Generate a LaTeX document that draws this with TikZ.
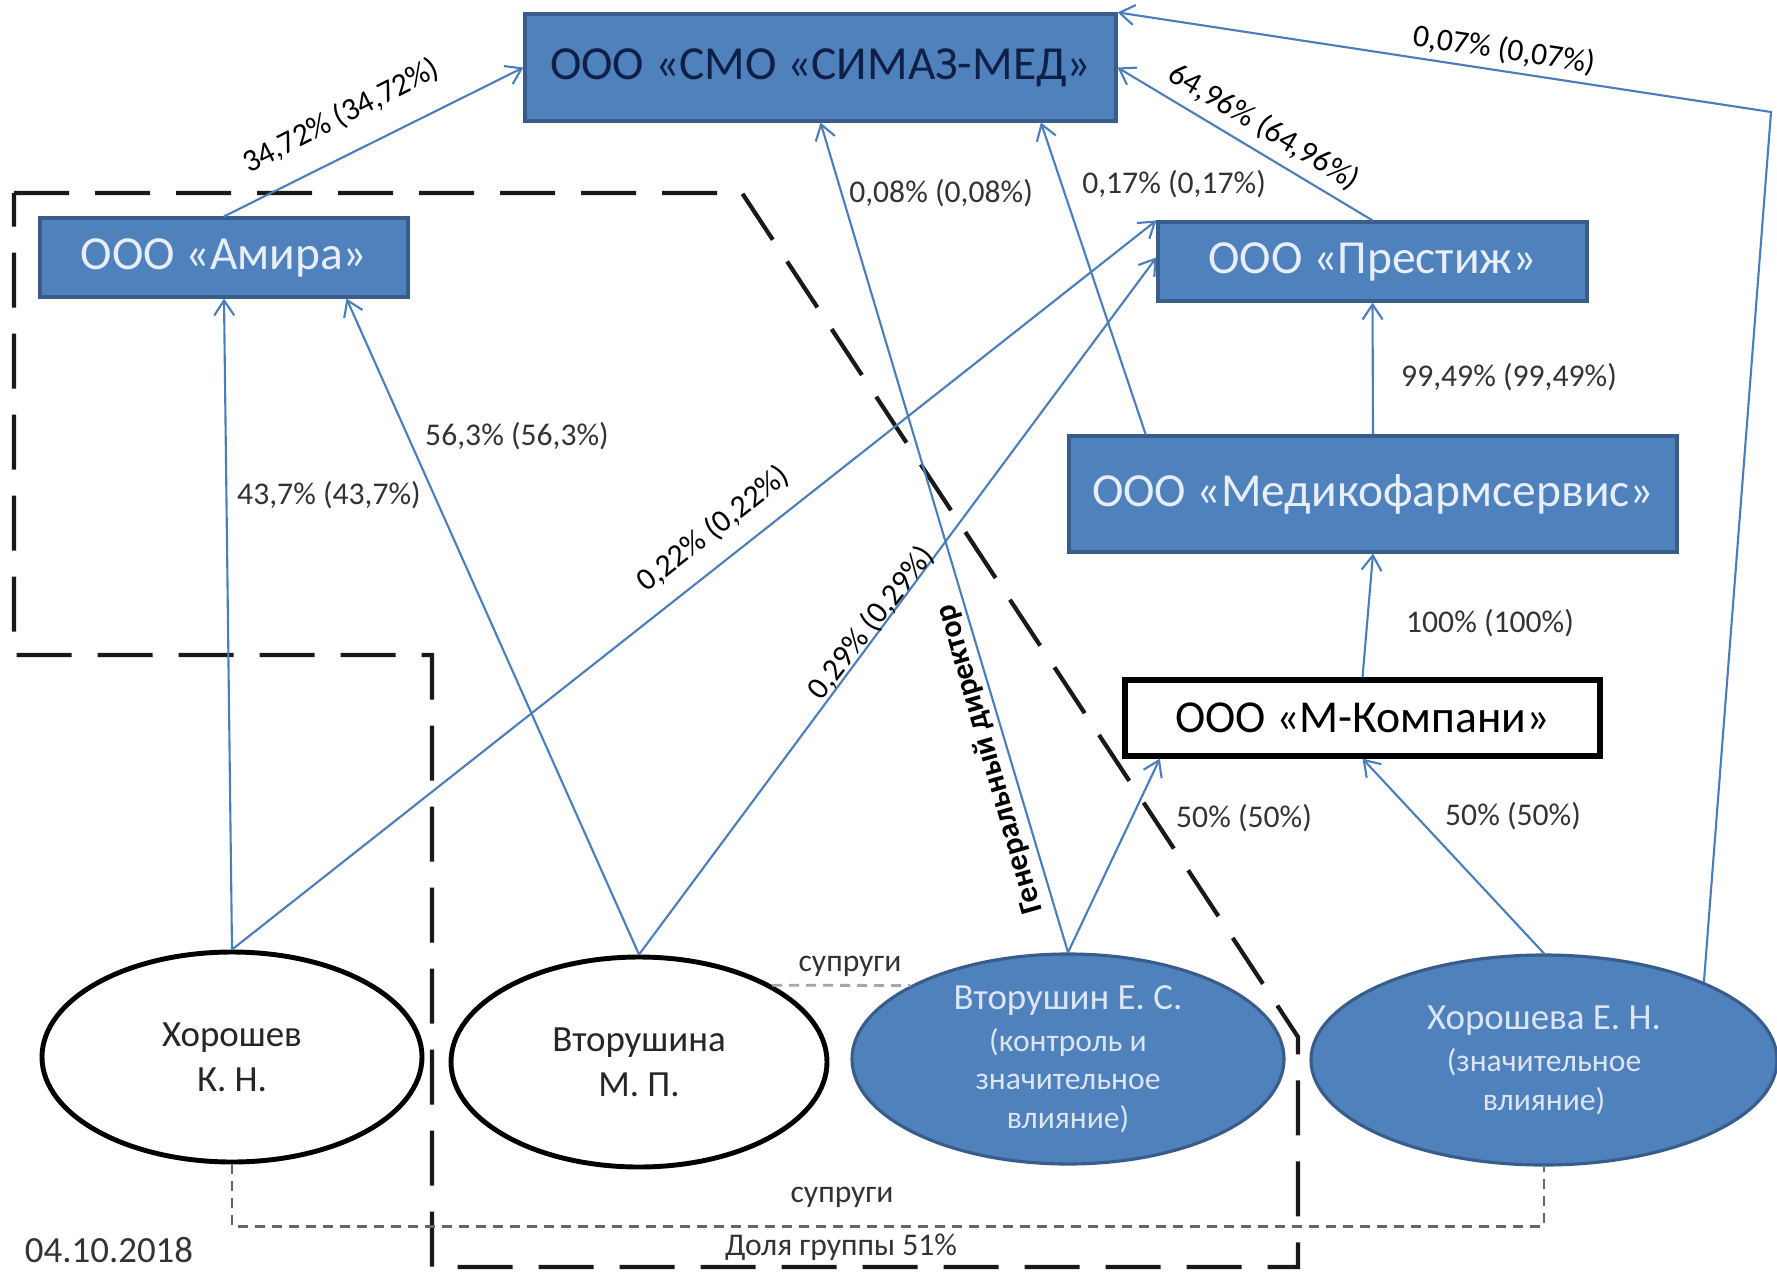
\documentclass[tikz,border=0pt]{standalone}
\usepackage{fontspec}
\setmainfont{Carlito}
\usetikzlibrary{arrows.meta,shapes.geometric,calc}
\definecolor{boxblue}{HTML}{4F81BD}
\definecolor{boxedge}{HTML}{385D8A}
\definecolor{linkblue}{HTML}{4A7EBB}
\definecolor{lighttxt}{HTML}{E8EEF8}
\definecolor{ellitxt}{HTML}{DCE6F2}
\definecolor{navytxt}{HTML}{0F1F45}
\definecolor{labtxt}{HTML}{333333}
\begin{document}
\begin{tikzpicture}[x=0.1mm,y=-0.1mm,
  company/.style={draw=boxedge, line width=0.9pt, fill=boxblue, text=lighttxt,
    font=\fontsize{13.5}{16}\selectfont, inner sep=0pt},
  person/.style={ellipse, draw=black, line width=1.4pt, fill=white, text=black!85,
    font=\fontsize{10.5}{12.8}\selectfont, align=center, inner sep=0pt},
  keyperson/.style={ellipse, draw=boxedge, line width=0.9pt, fill=boxblue, text=ellitxt,
    font=\fontsize{9}{11}\selectfont, align=center, inner sep=0pt},
  conn/.style={draw=linkblue, line width=0.6pt, -{Straight Barb[length=1.5mm,width=2mm]}},
  pct/.style={font=\fontsize{9}{11}\selectfont, text=labtxt, inner sep=1pt},
  pctrot/.style={font=\fontsize{9}{11}\selectfont, text=black, inner sep=1pt},
  groupline/.style={draw=black!90, line width=1.2pt, dash pattern=on 5.5mm off 2.6mm},
  spouseA/.style={draw=black!35, line width=0.8pt, dash pattern=on 1mm off 0.7mm},
  spouseB/.style={draw=black!60, line width=0.6pt, dash pattern=on 1mm off 0.7mm}
]
\fill[white] (0,0) rectangle (1777,1272);
\useasboundingbox (0,0) rectangle (1777,1272);

% group boundary
\draw[groupline] (14,193) -- (742,193) -- (1298,1037) -- (1298,1267) -- (432,1267)
  -- (432,655) -- (14,655) -- cycle;

% companies
\node[company, minimum width=59.1mm, minimum height=10.7mm, text=navytxt] (smo) at (820.5,67.5) {ООО «СМО «СИМАЗ-МЕД»};
\node[company, minimum width=36.8mm, minimum height=7.9mm] (amira) at (224,257.5) {ООО «Амира»};
\node[company, minimum width=42.9mm, minimum height=7.9mm] (prestizh) at (1372.5,261.5) {ООО «Престиж»};
\node[company, minimum width=60.8mm, minimum height=11.6mm] (medik) at (1373,494) {ООО «Медикофармсервис»};
\node[company, draw=black, line width=1.5pt, fill=white, text=black, font=\fontsize{13}{16}\selectfont, minimum width=47.5mm, minimum height=7.6mm] (mkomp) at (1362.5,718) {ООО «М-Компани»};

% persons
\node[person, minimum width=38mm, minimum height=21mm] (khorK) at (232,1057) {Хорошев\\К. Н.};
\node[person, minimum width=37.6mm, minimum height=21mm] (vtorM) at (639,1062) {Вторушина\\М. П.};
\node[keyperson, minimum width=43.2mm, minimum height=21mm] (vtorE) at (1068,1059)
  {{\fontsize{10.5}{12}\selectfont Вторушин Е. С.}\\[1pt](контроль и\\значительное\\влияние)};
\node[keyperson, minimum width=46.6mm, minimum height=21mm] (khorE) at (1544,1060)
  {{\fontsize{10.5}{12}\selectfont Хорошева Е. Н.}\\[1pt](значительное\\влияние)};

% connectors
\coordinate (bendR) at (1771,112);
\draw[conn] (amira.north) -- (smo.west);
\draw[conn] (khorK.north) -- (amira.south);
\draw[conn] (vtorM.north) -- ($(amira.south west)!0.83!(amira.south east)$);
\draw[conn] (khorK.north) -- (prestizh.north west);
\draw[conn] (vtorM.north) -- ($(prestizh.north west)!0.45!(prestizh.south west)$);
\draw[conn] (vtorE.north) -- (smo.south);
\draw[conn] ($(medik.north west)!0.128!(medik.north east)$) -- ($(smo.south west)!0.871!(smo.south east)$);
\draw[conn] (prestizh.north) -- (smo.east);
\draw[conn] (khorE.26) -- (bendR) -- (smo.north east);
\draw[conn] (medik.north) -- (prestizh.south);
\draw[conn] (mkomp.north) -- (medik.south);
\draw[conn] (vtorE.north) -- ($(mkomp.south west)!0.078!(mkomp.south east)$);
\draw[conn] (khorE.north) -- (mkomp.south);

% spouse links
\draw[spouseA] (vtorM.30) -- (vtorE.155);
\draw[spouseB] (khorK.south) -- ++(0,62) -| (khorE.south);

% labels
\node[pctrot, rotate=27] (l1) at (341,116) {34,72\% (34,72\%)};
\node[pct] (l2) at (329,495) {43,7\% (43,7\%)};
\node[pct] (l3) at (517,436) {56,3\% (56,3\%)};
\node[pctrot, rotate=38] (l4) at (713,529) {0,22\% (0,22\%)};
\node[pctrot, rotate=52] (l5) at (871,623) {0,29\% (0,29\%)};
\node[pct] (l6) at (941,193) {0,08\% (0,08\%)};
\node[pct] (l7) at (1174,184) {0,17\% (0,17\%)};
\node[pctrot, rotate=-31] (l8) at (1264,127) {64,96\% (64,96\%)};
\node[pctrot, rotate=-8.5] (l9) at (1504,50) {0,07\% (0,07\%)};
\node[pct] (l10) at (1509,377) {99,49\% (99,49\%)};
\node[pct] (l11) at (1490,623) {100\% (100\%)};
\node[pct] (l12) at (1244,818) {50\% (50\%)};
\node[pct] (l13) at (1513,816) {50\% (50\%)};
\node[font=\bfseries\fontsize{9}{11}\selectfont, text=black, rotate=106] (gd) at (990,759) {Генеральный директор};
\node[pct] (s1) at (850,966) {супруги};
\node[pct] (s2) at (842,1197) {супруги};
\node[pct] (grp) at (841,1247) {Доля группы 51\%};
\node[font=\fontsize{10.5}{12}\selectfont, text=labtxt] (date) at (109,1250) {04.10.2018};
\end{tikzpicture}
\end{document}
